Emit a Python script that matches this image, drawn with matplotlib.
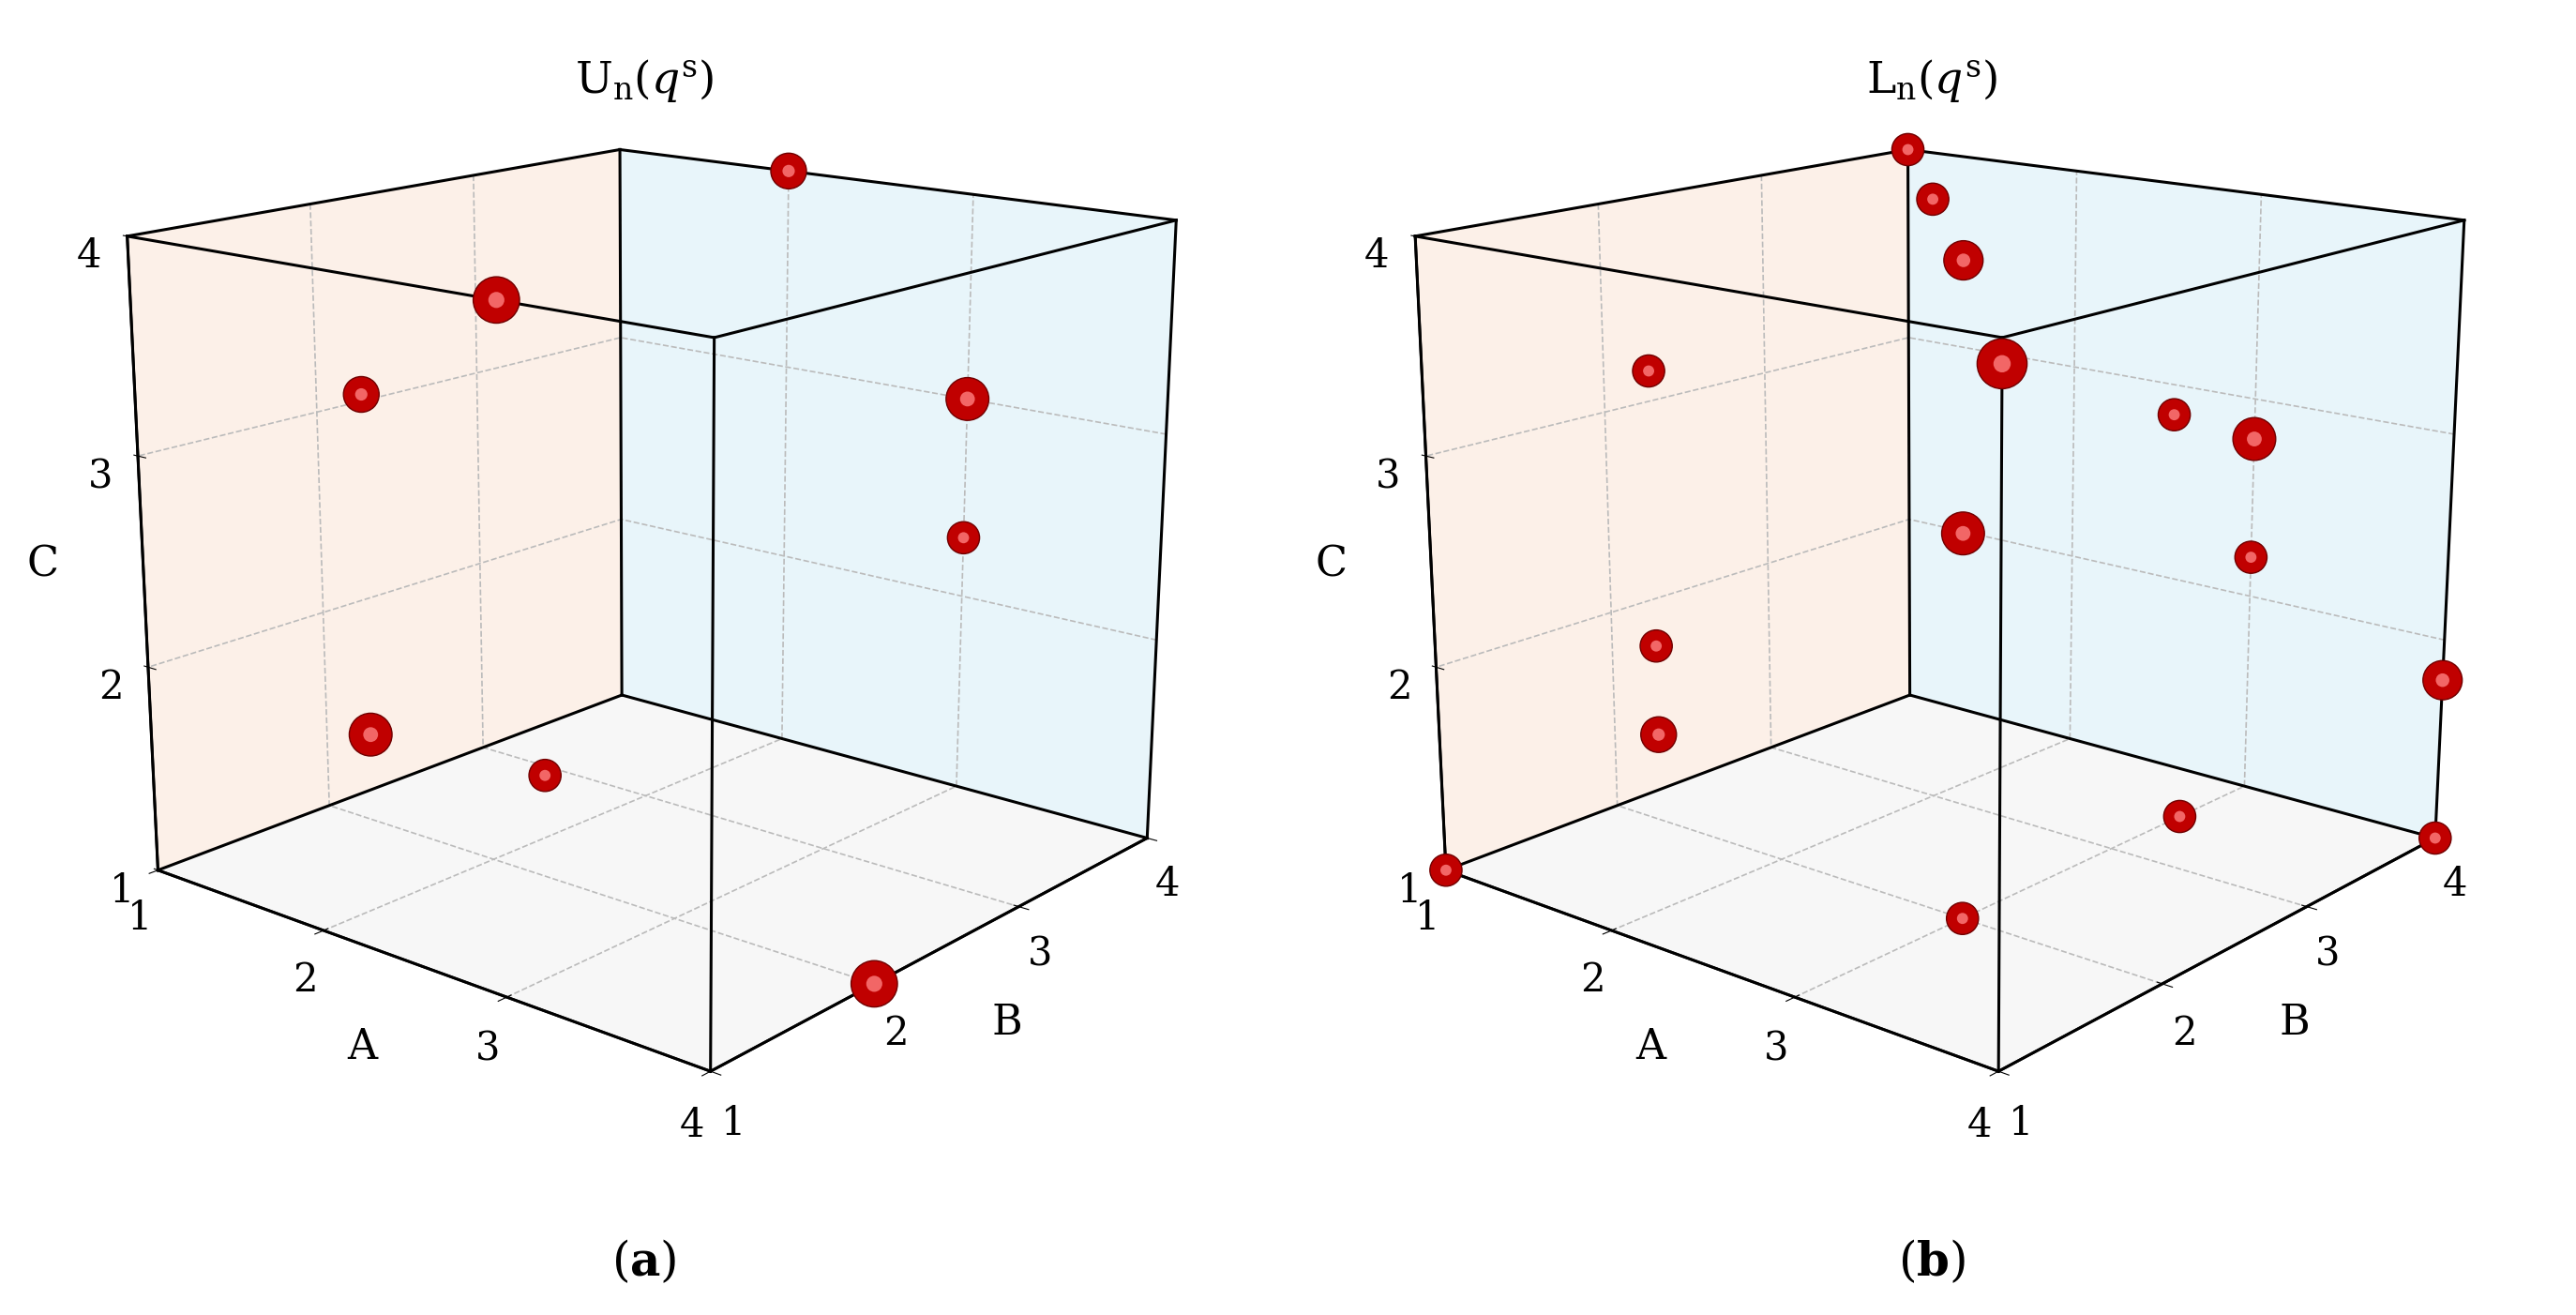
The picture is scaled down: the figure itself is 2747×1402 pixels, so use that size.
import matplotlib
matplotlib.use("Agg")
import matplotlib.pyplot as plt
import numpy as np

plt.rcParams['font.family'] = ['DejaVu Serif']
plt.rcParams['mathtext.fontset'] = 'dejavuserif'

ticks = [1, 2, 3, 4]
a_A = [2, 3, 2.3, 2.3, 2.3, 3, 3, 4]
a_B = [4, 1, 1, 1, 2, 4, 4, 2]
a_C = [4, 4, 3.5, 2.0, 1.5, 3, 2.3, 1]
a_S = [1, 1.3, 1, 1.2, 0.9, 1.2, 0.9, 1.3]

b_A = [1, 2, 3, 4, 4, 2.3, 3, 2.3, 2.3, 3, 1, 3, 4, 3, 3, 4]
b_B = [4, 3, 2, 1, 2, 1, 2, 1, 1, 2, 1, 3.5, 4, 4, 4, 4]
b_C = [4, 4, 4, 3.9, 3.5, 3.6, 2.8, 2.4, 2.0, 1, 1, 1, 1, 2.8, 2.2, 1.8]
b_S = [0.9, 0.9, 1.1, 1.4, 0.9, 0.9, 1.2, 0.9, 1.0, 0.9, 0.9, 0.9, 0.9, 1.2, 0.9, 1.1]

fig = plt.figure(figsize=(27.47, 14.02), dpi=100)

def draw(rect, A, B, C, S, title, sub):
    ax = fig.add_axes(rect, projection='3d')
    ax.set_proj_type('persp', focal_length=0.5)
    ax.view_init(elev=16, azim=-50)
    ax.set_box_aspect((1, 1, 0.9), zoom=1.04)
    ax.set_xlim(1, 4); ax.set_ylim(1, 4); ax.set_zlim(1, 4)
    ax.xaxis.set_pane_color((0.99, 0.94, 0.91, 1))
    ax.yaxis.set_pane_color((0.91, 0.96, 0.98, 1))
    ax.zaxis.set_pane_color((0.97, 0.97, 0.97, 1))
    ax.zaxis._axinfo['juggled'] = (1, 2, 0)
    for axis in (ax.xaxis, ax.yaxis, ax.zaxis):
        axis._axinfo['grid'].update(color='#bbbbbb', linestyle='--', linewidth=1.2)
        axis.line.set_color('black'); axis.line.set_linewidth(2)
        axis.set_ticks(ticks)
        axis.set_tick_params(labelsize=30, pad=8)
    ax.set_xlabel('A', fontsize=32, labelpad=22)
    ax.set_ylabel('B', fontsize=32, labelpad=22)
    ax.set_zlabel('C', fontsize=32, labelpad=22)
    e = [((1, 4), (1, 1), (4, 4)), ((4, 4), (1, 4), (4, 4)), ((1, 4), (4, 4), (4, 4)),
         ((1, 1), (1, 4), (4, 4)), ((4, 4), (1, 1), (1, 4)), ((4, 4), (4, 4), (1, 4)),
         ((1, 1), (4, 4), (1, 4)), ((1, 1), (1, 1), (1, 4)), ((1, 4), (1, 1), (1, 1)),
         ((4, 4), (1, 4), (1, 1)), ((1, 4), (4, 4), (1, 1)), ((1, 1), (1, 4), (1, 1))]
    for xs, ys, zs in e:
        ax.plot(xs, ys, zs, color='black', lw=2.2)
    s = np.array(S)
    ax.scatter(A, B, C, s=750 * s**2, c='#c00000', edgecolors='#700000',
               linewidths=1, depthshade=False, alpha=1)
    ax.scatter(A, B, C, s=90 * s**2, c='#ff8080', edgecolors='none',
               depthshade=False, alpha=0.8)
    ax.set_title(title, fontsize=34, y=0.99)
    fig.text(rect[0] + rect[2] * 0.5, 0.03, sub, fontsize=36, ha='center')
    return ax

draw([0.0, 0.14, 0.5, 0.86], a_A, a_B, a_C, a_S, r'U$_\mathrm{n}$($q^\mathrm{s}$)', r'($\mathbf{a}$)')
draw([0.5, 0.14, 0.5, 0.86], b_A, b_B, b_C, b_S, r'L$_\mathrm{n}$($q^\mathrm{s}$)', r'($\mathbf{b}$)')

fig.savefig('out.png', dpi=100)
